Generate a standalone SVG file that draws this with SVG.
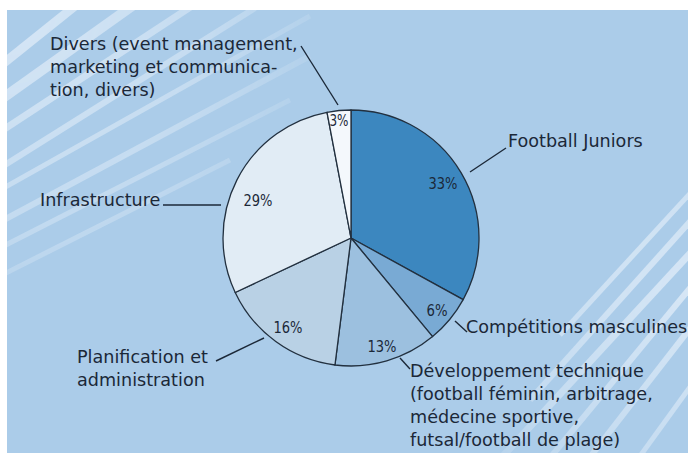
<svg xmlns="http://www.w3.org/2000/svg" width="688" height="455" viewBox="0 0 688 455">
  <defs>
    <style>
      .lbl { font-family: "DejaVu Sans", "Open Sans", "Liberation Sans", sans-serif; font-size: 17.6px; fill: #1b2838; }
      .pct { font-family: "DejaVu Sans Condensed", "DejaVu Sans", "Liberation Sans", sans-serif; font-size: 16px; fill: #1b2838; text-anchor: middle; }
      .slice { stroke: #22303f; stroke-width: 1.3; stroke-linejoin: round; }
      .leader { stroke: #1b2838; stroke-width: 1.4; fill: none; }
      .stripe { stroke: #d6e6f5; fill: none; stroke-linecap: butt; }
    </style>
    <radialGradient id="fadeTL" gradientUnits="userSpaceOnUse" cx="7" cy="10" r="360">
      <stop offset="0" stop-color="#fff" stop-opacity="1"/>
      <stop offset="0.55" stop-color="#fff" stop-opacity="0.6"/>
      <stop offset="1" stop-color="#fff" stop-opacity="0"/>
    </radialGradient>
    <radialGradient id="fadeBR" gradientUnits="userSpaceOnUse" cx="688" cy="290" r="300">
      <stop offset="0" stop-color="#fff" stop-opacity="1"/>
      <stop offset="0.6" stop-color="#fff" stop-opacity="0.6"/>
      <stop offset="1" stop-color="#fff" stop-opacity="0"/>
    </radialGradient>
    <mask id="maskTL"><rect x="0" y="0" width="688" height="455" fill="url(#fadeTL)"/></mask>
    <mask id="maskBR"><rect x="0" y="0" width="688" height="455" fill="url(#fadeBR)"/></mask>
    <clipPath id="bgClip"><rect x="7" y="10" width="681" height="443"/></clipPath>
  </defs>

  <rect x="0" y="0" width="688" height="455" fill="#ffffff"/>
  <rect id="background" x="7" y="10" width="681" height="443" fill="#abcce9"/>

  <g id="stripes" clip-path="url(#bgClip)">
    <g mask="url(#maskTL)">
      <line class="stripe" x1="0" y1="66" x2="75" y2="6" stroke-width="9"/>
      <line class="stripe" x1="0" y1="100" x2="135" y2="4" stroke-width="10"/>
      <line class="stripe" x1="0" y1="132" x2="195" y2="4" stroke-width="7"/>
      <line class="stripe" x1="0" y1="168" x2="255" y2="8" stroke-width="6"/>
      <line class="stripe" x1="0" y1="190" x2="310" y2="16" stroke-width="5"/>
      <line class="stripe" x1="0" y1="222" x2="310" y2="56" stroke-width="6"/>
      <line class="stripe" x1="0" y1="248" x2="290" y2="100" stroke-width="5"/>
      <line class="stripe" x1="0" y1="276" x2="230" y2="160" stroke-width="5"/>
    </g>
    <g mask="url(#maskBR)">
      <line class="stripe" x1="560" y1="335" x2="695" y2="188" stroke-width="5"/>
      <line class="stripe" x1="530" y1="400" x2="695" y2="216" stroke-width="6"/>
      <line class="stripe" x1="490" y1="470" x2="695" y2="248" stroke-width="7"/>
      <line class="stripe" x1="540" y1="470" x2="695" y2="282" stroke-width="6"/>
      <line class="stripe" x1="580" y1="470" x2="695" y2="322" stroke-width="6"/>
      <line class="stripe" x1="630" y1="470" x2="695" y2="380" stroke-width="5"/>
    </g>
  </g>

  <g id="pie">
    <g id="slice-football-juniors">
      <path class="slice" fill="#3c87bf" d="M351,238 L351,110 A128,128 0 0 1 463.17,299.67 Z"/>
      <text class="pct" x="443" y="189" textLength="29" lengthAdjust="spacingAndGlyphs">33%</text>
    </g>
    <g id="slice-competitions">
      <path class="slice" fill="#79aad4" d="M351,238 L463.17,299.67 A128,128 0 0 1 432.59,336.62 Z"/>
      <text class="pct" x="437" y="316" textLength="21" lengthAdjust="spacingAndGlyphs">6%</text>
    </g>
    <g id="slice-developpement">
      <path class="slice" fill="#9cc0df" d="M351,238 L432.59,336.62 A128,128 0 0 1 334.96,364.99 Z"/>
      <text class="pct" x="382" y="352" textLength="29" lengthAdjust="spacingAndGlyphs">13%</text>
    </g>
    <g id="slice-planification">
      <path class="slice" fill="#b9d1e5" d="M351,238 L334.96,364.99 A128,128 0 0 1 235.19,292.50 Z"/>
      <text class="pct" x="288" y="333" textLength="29" lengthAdjust="spacingAndGlyphs">16%</text>
    </g>
    <g id="slice-infrastructure">
      <path class="slice" fill="#e1ecf5" d="M351,238 L235.19,292.50 A128,128 0 0 1 327.02,112.27 Z"/>
      <text class="pct" x="258" y="206" textLength="29" lengthAdjust="spacingAndGlyphs">29%</text>
    </g>
    <g id="slice-divers">
      <path class="slice" fill="#f4f8fc" d="M351,238 L327.02,112.27 A128,128 0 0 1 351,110 Z"/>
      <text class="pct" x="339" y="126" textLength="19" lengthAdjust="spacingAndGlyphs">3%</text>
    </g>
  </g>

  <g id="connectors">
    <line class="leader" x1="301" y1="46" x2="338" y2="105"/>
    <line class="leader" x1="506" y1="148" x2="470" y2="172"/>
    <line class="leader" x1="163" y1="205" x2="221" y2="205"/>
    <line class="leader" x1="455" y1="321" x2="467" y2="332"/>
    <line class="leader" x1="400" y1="358" x2="410" y2="369"/>
    <line class="leader" x1="216" y1="361" x2="264" y2="338"/>
  </g>

  <g id="label-divers">
    <text class="lbl" x="50" y="50">Divers (event management,</text>
    <text class="lbl" x="50" y="73">marketing et communica-</text>
    <text class="lbl" x="50" y="96">tion, divers)</text>
  </g>
  <g id="label-football-juniors">
    <text class="lbl" x="508" y="147">Football Juniors</text>
  </g>
  <g id="label-infrastructure">
    <text class="lbl" x="40" y="206">Infrastructure</text>
  </g>
  <g id="label-competitions">
    <text class="lbl" x="466" y="333">Compétitions masculines</text>
  </g>
  <g id="label-developpement">
    <text class="lbl" x="410" y="377">Développement technique</text>
    <text class="lbl" x="410" y="400">(football féminin, arbitrage,</text>
    <text class="lbl" x="410" y="423">médecine sportive,</text>
    <text class="lbl" x="410" y="446">futsal/football de plage)</text>
  </g>
  <g id="label-planification">
    <text class="lbl" x="77" y="363">Planification et</text>
    <text class="lbl" x="77" y="386">administration</text>
  </g>
</svg>
